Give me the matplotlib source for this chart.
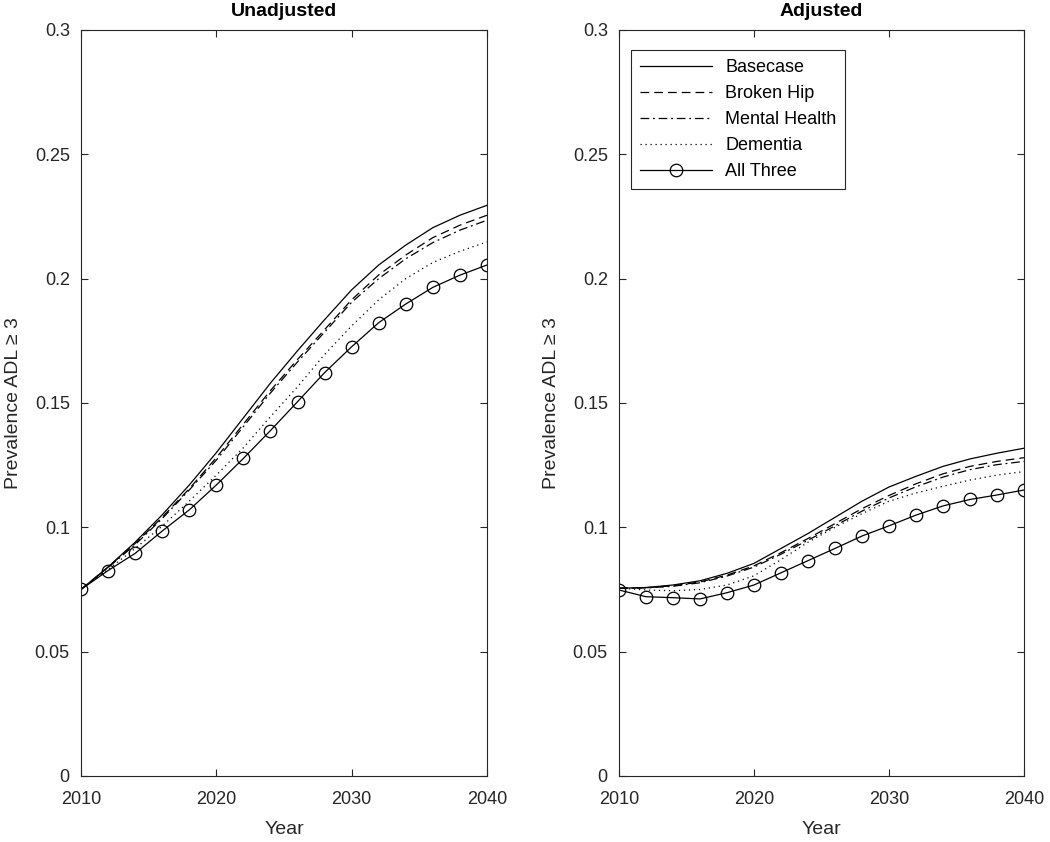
import matplotlib

matplotlib.use("Agg")
import matplotlib.pyplot as plt

plt.rcParams["font.family"] = ["Liberation Sans", "DejaVu Sans"]

years = list(range(2010, 2041, 2))

# unadjusted
unadj_base = [0.075, 0.084, 0.094, 0.105, 0.117, 0.130, 0.144, 0.158, 0.171, 0.1835,
              0.1955, 0.2055, 0.2135, 0.2205, 0.2255, 0.2295]
unadj_hip = [0.075, 0.084, 0.0935, 0.104, 0.1155, 0.128, 0.1415, 0.155, 0.1675, 0.1795,
             0.1915, 0.2015, 0.2095, 0.2165, 0.2215, 0.2255]
unadj_mental = [0.075, 0.0838, 0.093, 0.1035, 0.115, 0.127, 0.1405, 0.154, 0.1665, 0.1785,
                0.1905, 0.200, 0.208, 0.2145, 0.2195, 0.2235]
unadj_dementia = [0.075, 0.083, 0.0915, 0.1005, 0.1105, 0.121, 0.132, 0.1445, 0.1565, 0.1695,
                  0.181, 0.1915, 0.200, 0.2065, 0.211, 0.2148]
unadj_all = [0.075, 0.0826, 0.0895, 0.0985, 0.107, 0.117, 0.1277, 0.1389, 0.1505, 0.1622,
             0.1726, 0.1823, 0.1898, 0.1965, 0.2014, 0.2055]

# adjusted
adj_base = [0.0755, 0.0758, 0.0768, 0.0785, 0.0815, 0.0855, 0.0915, 0.0975, 0.104, 0.1105,
            0.1162, 0.1205, 0.1245, 0.1275, 0.1298, 0.1318]
adj_hip = [0.0755, 0.0757, 0.0765, 0.078, 0.0808, 0.0845, 0.0898, 0.0955, 0.1015, 0.1075,
           0.1128, 0.1175, 0.1215, 0.1245, 0.1265, 0.128]
adj_mental = [0.0755, 0.0756, 0.0763, 0.0777, 0.0804, 0.084, 0.0892, 0.0948, 0.1006, 0.1065,
              0.1118, 0.1163, 0.1202, 0.1232, 0.1252, 0.1265]
adj_dementia = [0.0755, 0.0748, 0.0745, 0.075, 0.0768, 0.0805, 0.087, 0.094, 0.100, 0.1055,
                0.1105, 0.1138, 0.1165, 0.119, 0.121, 0.1224]
adj_all = [0.0748, 0.0721, 0.0717, 0.0712, 0.0737, 0.0768, 0.0817, 0.0866, 0.0915, 0.0965,
           0.1006, 0.1049, 0.1086, 0.1112, 0.113, 0.115]

labels = ["Basecase", "Broken Hip", "Mental Health", "Dementia", "All Three"]
styles = ["-", (0, (7, 4)), (0, (7, 3, 1.5, 3)), (0, (1, 3)), "-"]

panels = [
    ("Unadjusted", [unadj_base, unadj_hip, unadj_mental, unadj_dementia, unadj_all]),
    ("Adjusted", [adj_base, adj_hip, adj_mental, adj_dementia, adj_all]),
]

fig = plt.figure(figsize=(10.5, 8.42), dpi=100)
positions = [[0.0771, 0.0784, 0.3867, 0.886], [0.5895, 0.0784, 0.3857, 0.886]]

for pos, (title, series) in zip(positions, panels):
    ax = fig.add_axes(pos)
    for s, lab, ls in zip(series, labels, styles):
        if lab == "All Three":
            ax.plot(years, s, ls, color="k", lw=0.9, marker="o", ms=9,
                    mfc="none", mec="k", mew=0.9, label=lab)
        else:
            ax.plot(years, s, linestyle=ls, color="k", lw=0.9, label=lab)
    ax.set_xlim(2010, 2040)
    ax.set_ylim(0, 0.3)
    ax.set_xticks([2010, 2020, 2030, 2040])
    ax.set_yticks([0, 0.05, 0.1, 0.15, 0.2, 0.25, 0.3])
    ax.set_yticklabels(["0", "0.05", "0.1", "0.15", "0.2", "0.25", "0.3"])
    ax.tick_params(direction="in", top=True, right=True, length=5, width=0.8,
                   labelsize=13, colors="#262626")
    ax.tick_params(axis="x", pad=11)
    ax.tick_params(axis="y", pad=8)
    for sp in ax.spines.values():
        sp.set_linewidth(0.8)
        sp.set_color("#262626")
    ax.set_xlabel("Year", fontsize=14, color="#262626", labelpad=9)
    ax.set_ylabel("Prevalence ADL \u2265 3", fontsize=14, color="#262626", labelpad=9)
    ax.set_title(title, fontsize=14, fontweight="bold", pad=10)
    if title == "Adjusted":
        leg = ax.legend(loc="upper left", bbox_to_anchor=(0.03, 0.973), fontsize=13,
                        fancybox=False, framealpha=1, edgecolor="#262626",
                        handlelength=4.0, handletextpad=0.7, labelspacing=0.5,
                        borderpad=0.5, borderaxespad=0)
        leg.get_frame().set_linewidth(0.8)

fig.savefig("out.png", dpi=100)
